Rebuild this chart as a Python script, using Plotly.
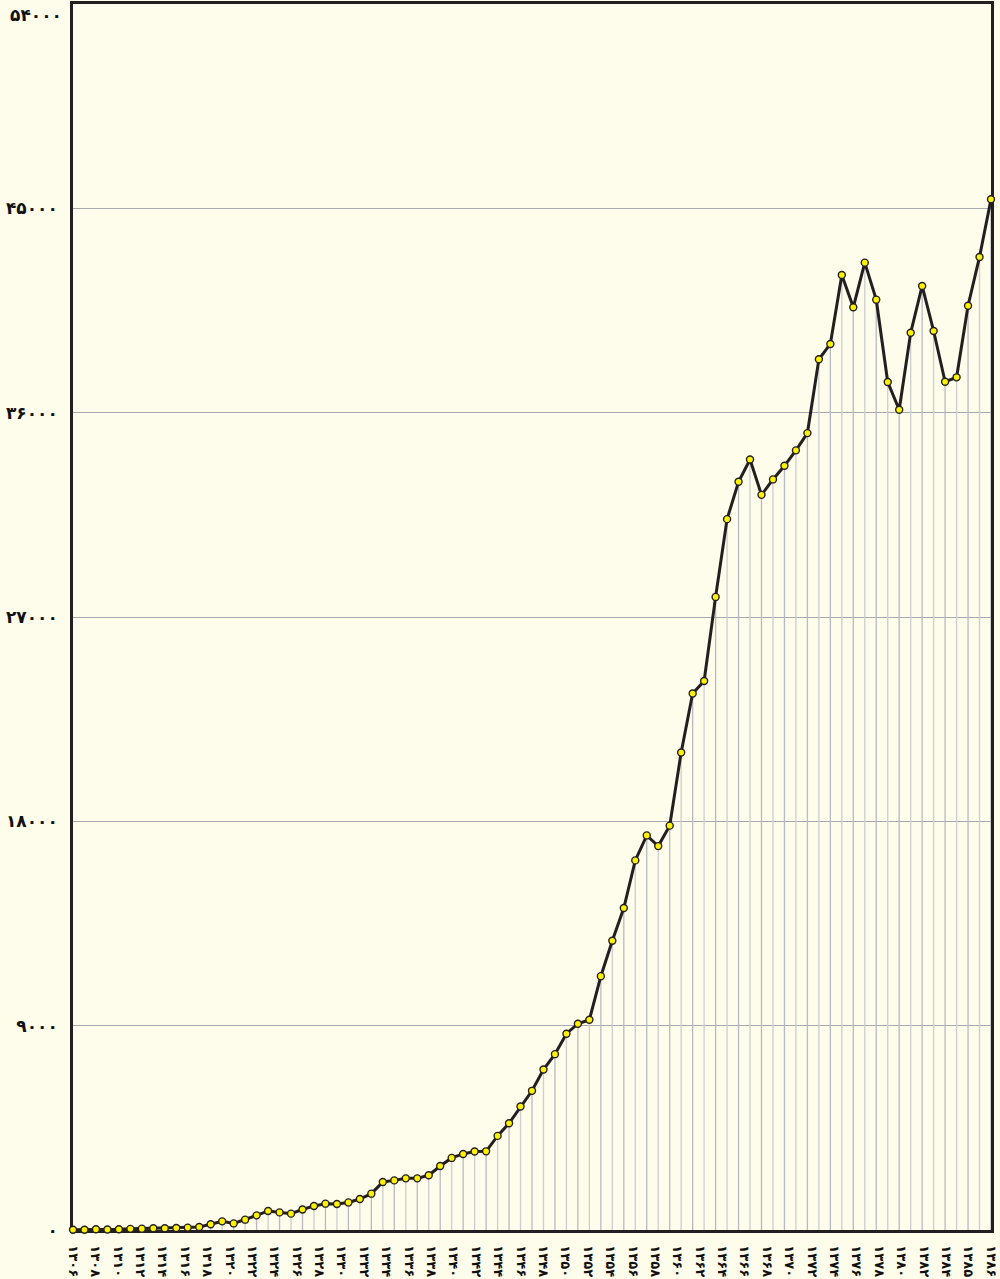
import numpy as np
import plotly.graph_objects as go

# ---- data ----
values = [
    10, 10, 30, 20, 30, 50, 60, 75, 75, 90,
    105, 135, 250, 380, 290, 455, 645, 840, 775, 720,
    905, 1060, 1160, 1145, 1215, 1365, 1600, 2115, 2185, 2275,
    2275, 2410, 2820, 3175, 3350, 3455, 3465, 4145, 4700, 5440,
    6130, 7070, 7745, 8645, 9085, 9260, 11180, 12740, 14180, 16280,
    17380, 16910, 17810, 21030, 23630, 24180, 27885, 31310, 32955, 33940,
    32380, 33060, 33660, 34340, 35100, 38350, 39025, 42066, 40642, 42608,
    40977, 37349, 36128, 39522, 41581, 39597, 37362, 37556, 40712, 42859,
    45402,
]
x_tick_labels = [str(y) for y in range(1306, 1385, 2)] + ["1385", "1386"]
y_tick_values = [0, 9000, 18000, 27000, 36000, 45000]
y_top = 54000

FA = str.maketrans("0123456789", "۰۱۲۳۴۵۶۷۸۹")
def fa(s):
    return str(s).translate(FA)

n = len(values)
xs = list(range(n))

BG = "#FEFCEA"
DARK = "#231f20"

fig = go.Figure()

# drop lines from each point to the axis (alternating gray shades)
for parity, col in ((0, "#b9b9c3"), (1, "#cdcdcf")):
    lx, ly = [], []
    for i in xs:
        if i % 2 == parity:
            lx += [i, i, None]
            ly += [0, values[i], None]
    fig.add_trace(go.Scatter(x=lx, y=ly, mode="lines",
                             line=dict(color=col, width=1.3),
                             hoverinfo="skip", showlegend=False))

fig.add_trace(go.Scatter(
    x=xs, y=values, mode="lines+markers",
    line=dict(color=DARK, width=3),
    marker=dict(size=7, color="#FFF200", line=dict(color=DARK, width=1.4)),
    cliponaxis=False, showlegend=False,
))

fig.update_layout(
    width=1000, height=1279,
    margin=dict(l=73, r=9, t=4, b=49, autoexpand=False),
    paper_bgcolor=BG, plot_bgcolor=BG,
    font=dict(family="DejaVu Sans", color="#111"),
)

fig.update_xaxes(
    range=[0, n - 1],
    tickmode="array",
    tickvals=list(np.linspace(0, n - 1, len(x_tick_labels))),
    ticktext=[fa(t) for t in x_tick_labels],
    tickangle=90,
    tickfont=dict(size=13, family="DejaVu Sans", weight="bold"),
    ticks="", ticklabelstandoff=10,
    automargin=False,
    showgrid=False, zeroline=False,
    showline=True, linecolor=DARK, linewidth=2.5, mirror=True,
    layer="below traces",
)

fig.update_yaxes(
    range=[0, y_top],
    tickmode="array",
    tickvals=y_tick_values,
    ticktext=[fa(v) for v in y_tick_values],
    tickfont=dict(size=17, family="DejaVu Sans", weight="bold"),
    ticks="", ticklabelstandoff=9,
    automargin=False,
    showgrid=True, gridcolor="#a9a9b2", gridwidth=1,
    zeroline=False,
    showline=True, linecolor=DARK, linewidth=2.5, mirror=True,
    layer="below traces",
)

fig.add_annotation(
    x=0, xref="paper", xanchor="right", xshift=-9,
    y=y_top, yref="y", yanchor="middle", yshift=-11,
    text=fa(y_top), showarrow=False,
    font=dict(size=17, family="DejaVu Sans", weight="bold", color="#111"),
)

fig.write_html(
    "out.html",
    config={"displayModeBar": False},
    post_script="document.body.style.margin='0';document.body.style.overflow='hidden';",
)
